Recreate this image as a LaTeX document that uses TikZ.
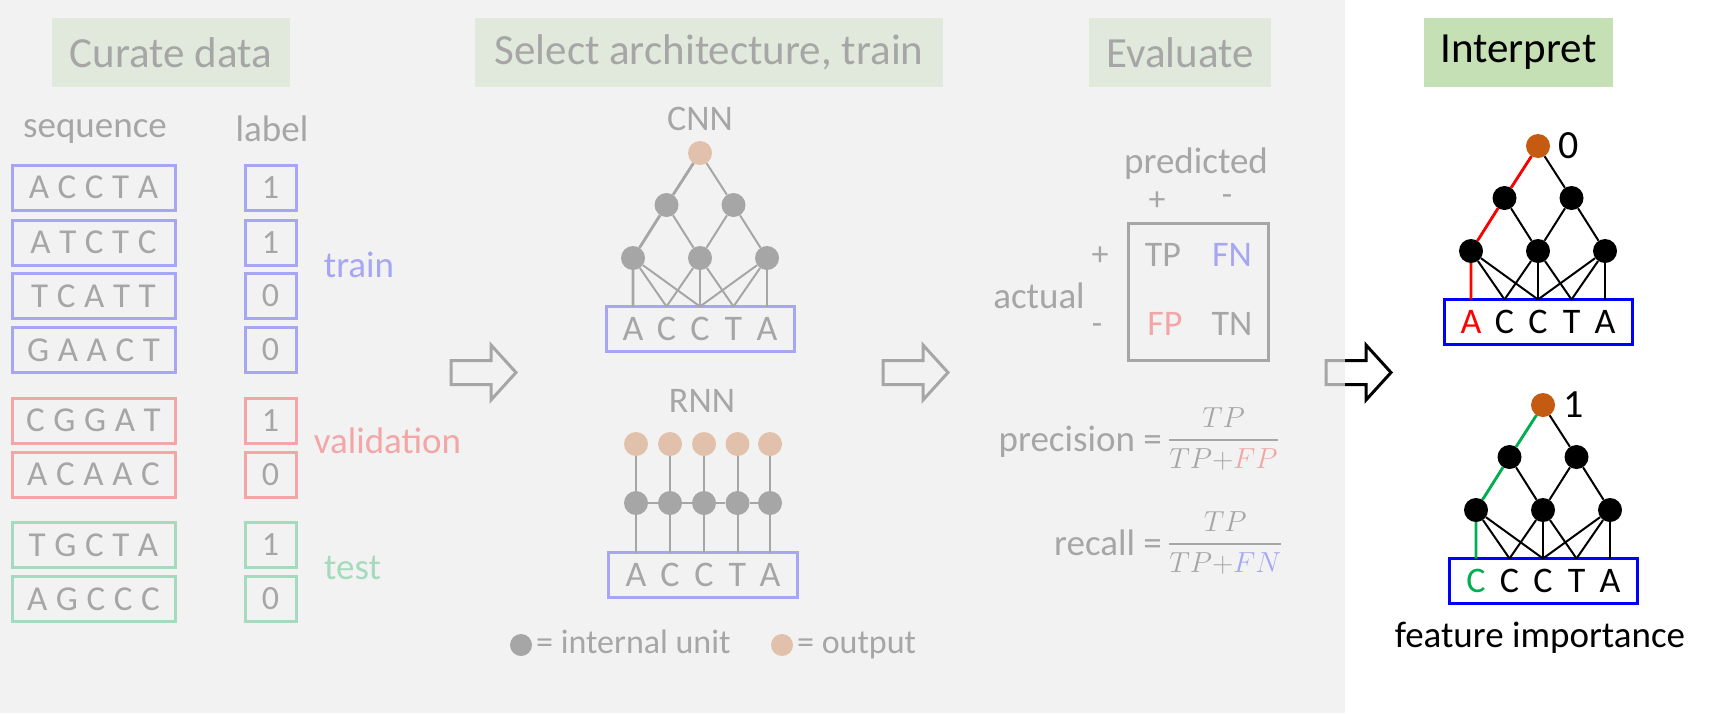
\RequirePackage{fix-cm}
\documentclass[tikz,border=0pt]{standalone}
\usepackage{amsmath}
\usepackage{fontspec}
\setmainfont{Carlito}
\usepackage{xcolor}
\usepackage{tikz}
\usetikzlibrary{positioning}

\definecolor{veil}{RGB}{237,237,237}
\definecolor{titlegreen}{RGB}{197,224,180}
\definecolor{outorange}{RGB}{197,90,17}
\definecolor{setblue}{RGB}{0,0,255}
\definecolor{setred}{RGB}{255,0,0}
\definecolor{setgreen}{RGB}{0,176,80}

\newcommand{\fsz}[1]{\fontsize{#1}{#1}\selectfont}
\newcommand{\ratio}[2]{$\genfrac{}{}{2.4pt}{0}{#1}{#2}$}

% small conv net: name prefix, origin, first base, highlight colour
\newcommand{\convnet}[4]{%
  \begin{scope}[shift={#2}]
    \node[unit, fill=outorange] (#1out) at (67,-105) {};
    \node[unit] (#1h1) at (33.5,-53) {};
    \node[unit] (#1h2) at (100.5,-53) {};
    \node[unit] (#1c1) at (0,0) {};
    \node[unit] (#1c2) at (67,0) {};
    \node[unit] (#1c3) at (134,0) {};
    \node[seqbox, minimum width=188] (#1in) at (67,71) {};
    \foreach \i/\x in {1/0, 2/33.5, 3/67, 4/100.5, 5/134}
      \coordinate (#1p\i) at (\x,48.5);
    \node[netbase, text=#4] (#1b1) at (0,71) {#3};
    \foreach \i/\s in {2/C, 3/C, 4/T, 5/A}
      \node[netbase] (#1b\i) at (#1p\i |- #1in) {\s};
    \draw[edge] (#1out) -- (#1h1) (#1out) -- (#1h2)
      (#1h1) -- (#1c1) (#1h1) -- (#1c2) (#1h2) -- (#1c2) (#1h2) -- (#1c3);
    \foreach \j in {1,2,3}
      \foreach \k in {0,1,2} {
        \pgfmathtruncatemacro\m{\j+\k}
        \draw[edge] (#1c\j) -- (#1p\m);
      }
    \draw[edge, draw=#4, line width=2.8] (#1out) -- (#1h1) -- (#1c1) -- (#1p1);
  \end{scope}}

\begin{document}
\begin{tikzpicture}[
    x=1pt, y=-1pt,
    unit/.style={circle, fill=black, minimum size=24, inner sep=0pt},
    edge/.style={draw=black, line width=2},
    seqbox/.style={rectangle, draw=setblue, line width=3, minimum height=45, inner sep=0pt},
    netbase/.style={font=\fsz{36}, inner sep=0pt},
    title/.style={rectangle, fill=titlegreen, minimum height=69, font=\fsz{43}},
    tag/.style={font=\fsz{37}, inner sep=0pt},
    sign/.style={font=\fsz{34}, inner sep=0pt},
    seq/.style={rectangle, draw=#1, line width=3, minimum width=163, minimum height=45, font=\fsz{35}},
    lab/.style={rectangle, draw=#1, line width=3, minimum width=51, minimum height=45, font=\fsz{34}},
    frac/.style={anchor=base west, inner sep=0pt, font=\fsz{29}},
    blockarrow/.style={draw=black, line width=3, line join=miter}
]
    \useasboundingbox (0,0) rectangle (1712,713);
    \fill[white] (0,0) rectangle (1712,713);

    % Titles
    \node[title, minimum width=238] (curate) at (171,52.5) {Curate data};
    \node[title, minimum width=468] (select) at (709,52.5) {Select architecture, train};
    \node[title, minimum width=182] (evaluate) at (1180,52.5) {Evaluate};

    % Data sets
    \node[tag] (seqhead) at (95,131) {sequence};
    \node[tag] (labhead) at (272,128.5) {label};
    \foreach \y/\s/\l/\c [count=\i] in {187.5/A C C T A/1/setblue, 242.5/A T C T C/1/setblue,
        296/T C A T T/0/setblue, 350/G A A C T/0/setblue, 420.5/C G G A T/1/setred,
        474.5/A C A A C/0/setred, 545/T G C T A/1/setgreen, 599/A G C C C/0/setgreen} {
      \node[seq=\c] (seq\i) at (93.5,\y) {\addfontfeature{LetterSpace=2}\s};
      \node[lab=\c] (lab\i) at (270.5,\y) {\l};
    }
    \node[tag, text=setblue] (train) at (359,265) {train};
    \node[tag, text=setred] (valid) at (387.5,441) {validation};
    \node[tag, text=setgreen] (test) at (352.5,568) {test};

    % Architectures
    \node[netbase] (cnnname) at (700,119) {CNN};
    \convnet{cnn}{(633,258)}{A}{black}
    \node[netbase] (rnnname) at (702,401) {RNN};
    \node[seqbox, minimum width=189] (rin) at (702.5,575) {};
    \foreach \x/\s [count=\i] in {636/A, 670/C, 704/C, 737.5/T, 770/A} {
      \node[unit, fill=outorange] (rout\i) at (\x,444) {};
      \node[unit] (rh\i) at (\x,503) {};
      \coordinate (rp\i) at (\x,552.5);
      \node[netbase] (rb\i) at (\x,575) {\s};
      \draw[edge] (rh\i) -- (rout\i) (rh\i) -- (rp\i);
    }
    \foreach \i [evaluate=\i as \j using int(\i+1)] in {1,...,4}
      \draw[edge] (rh\i) -- (rh\j);
    \node[unit, minimum size=22] (keyunit) at (521,645) {};
    \node[sign, anchor=base west] (keyunittext) at (536,653) {= internal unit};
    \node[unit, fill=outorange, minimum size=22] (keyout) at (782,645) {};
    \node[sign, anchor=base west] (keyouttext) at (797,653) {= output};

    % Evaluation
    \node[tag] (predicted) at (1196,164) {predicted};
    \node[sign] (predpos) at (1157,201) {+};
    \node[sign] (predneg) at (1227,200) {-};
    \node[tag] (actual) at (1039,295.5) {actual};
    \node[sign] (actpos) at (1100,256) {+};
    \node[sign] (actneg) at (1097,329) {-};
    \node[rectangle, draw=black, line width=3, minimum width=140, minimum height=137] (matrix) at (1198,291.5) {};
    \node[sign, font=\fsz{36}] (tp) at (1163,255) {TP};
    \node[sign, font=\fsz{36}, text=setblue] (fn) at (1232,255) {FN};
    \node[sign, font=\fsz{36}, text=setred] (fp) at (1165,324) {FP};
    \node[sign, font=\fsz{36}] (tn) at (1232,324) {TN};
    \node[tag, anchor=base east] (prec) at (1162,451) {precision =};
    \node[frac] (precfrac) at (1168,447.5) {\ratio{TP}{TP\mathord{+}\textcolor{setred}{FP}}};
    \node[tag, anchor=base east] (rec) at (1162,555) {recall =};
    \node[frac] (recfrac) at (1168,551.5) {\ratio{TP}{TP\mathord{+}\textcolor{setblue}{FN}}};

    % Stage arrows
    \foreach \x in {451,883,1326}
      \draw[blockarrow, xshift=\x] (0,360.5) -- (40,360.5) -- (40,345) -- (65,372.5)
        -- (40,400) -- (40,384.5) -- (0,384.5) -- cycle;

    % Faded panel
    \fill[veil, opacity=0.7] (0,0) rectangle (1345,713);

    % Interpretation
    \node[title, minimum width=189] (interpret) at (1518.5,52.5) {Interpret};
    \convnet{ia}{(1471,251)}{A}{setred}
    \node[netbase, font=\fsz{40}, right=8pt of iaout] (iaval) {0};
    \convnet{ib}{(1476,510)}{C}{setgreen}
    \node[netbase, font=\fsz{40}, right=8pt of ibout] (ibval) {1};
    \node[tag] (importance) at (1540,638) {feature importance};
\end{tikzpicture}
\end{document}
